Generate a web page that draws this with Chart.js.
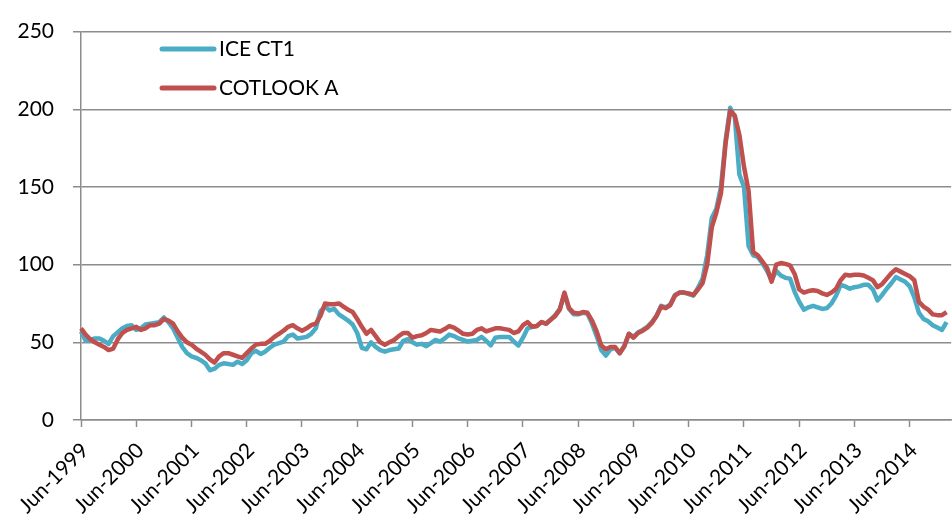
<!DOCTYPE html>
<html>
<head>
<meta charset="utf-8">
<script src="https://cdn.jsdelivr.net/npm/chart.js@4"></script>
<style>
html, body { margin: 0; padding: 0; background: #fff; overflow: hidden; }
</style>
</head>
<body>
<!-- canvas is a bit wider than the window: the plot runs off the right edge like the original -->
<canvas id="grafico" width="980" height="526"></canvas>
<script>
// monthly prices, Jun-1999 onwards
const tickLabels = ['Jun-1999', 'Jun-2000', 'Jun-2001', 'Jun-2002', 'Jun-2003', 'Jun-2004', 'Jun-2005', 'Jun-2006',
  'Jun-2007', 'Jun-2008', 'Jun-2009', 'Jun-2010', 'Jun-2011', 'Jun-2012', 'Jun-2013', 'Jun-2014'];

const monthNames = ['Jan', 'Feb', 'Mar', 'Apr', 'May', 'Jun', 'Jul', 'Aug', 'Sep', 'Oct', 'Nov', 'Dec'];
const categories = [];
for (let i = 0; i < 190; i++) {
  categories.push(monthNames[(5 + i) % 12] + '-' + (1999 + Math.floor((5 + i) / 12)));
}

const iceCT1 = [
  57, 51, 51.5, 52.5, 52.5, 51, 49, 54, 56.5, 59, 60.5, 61,
  58, 59, 61.5, 62, 62.5, 63, 66, 63, 59, 53, 47, 43,
  41, 40, 38.5, 36.5, 32, 33, 35.5, 36.5, 36, 35.5, 37.5, 36,
  38.5, 43, 44.5, 42.5, 44, 46.5, 48.5, 49.5, 50.5, 54, 55, 52.5,
  53, 53.5, 55.5, 59, 70, 73, 70.5, 71.5, 68, 66, 64, 61.5,
  56, 46.5, 45.5, 50, 47, 45, 44, 45, 45.5, 46, 51, 52,
  50, 48.5, 49, 47.5, 49.5, 51.5, 50.5, 52.5, 55, 54, 52.5, 51.5,
  50.5, 51, 51.5, 53.5, 51, 48, 53, 53.5, 53.5, 53.5, 50.5, 48,
  53, 59, 60, 60.5, 63, 62, 64.5, 67.5, 71.5, 81, 71.5, 68,
  68, 69, 68.5, 62, 54, 45, 41.5, 45.5, 46.5, 43, 47.5, 55.5,
  53.5, 56.5, 58, 60, 63, 67, 73.5, 72.5, 74.5, 80.5, 82, 82,
  81, 80, 85, 91, 106, 130, 136, 150, 180, 201, 195, 158,
  150, 112, 106, 105, 101, 96, 90, 96, 93, 91.5, 91, 82.5,
  76, 71, 72.5, 73.5, 72.5, 71.5, 72, 75, 80, 87, 86, 84.5,
  85.5, 86, 87, 87, 84, 77, 80.5, 84.5, 88, 92, 90.5, 89,
  86, 79, 69, 65, 63.5, 61, 59.5, 58, 63
];

const cotlookA = [
  59, 55, 52, 50, 48.5, 47, 45, 46, 52, 56, 58, 59,
  60, 58, 59, 61, 61, 62, 65, 64, 62, 57, 53, 50,
  48.5, 46, 44, 42, 39, 37, 41, 43, 43, 42, 41, 40,
  43, 46, 48.5, 49, 49, 51, 53.5, 55.5, 57.5, 60, 61, 59,
  57.5, 59, 61, 62, 67, 75, 74.5, 74.5, 75, 73, 71, 69.5,
  65, 60, 55.5, 58, 54, 50, 48.5, 50, 51.5, 54, 56, 56,
  53, 54, 54.5, 56, 58, 57.5, 57, 58.5, 60.5, 59.5, 57.5, 55.5,
  55, 55.5, 58, 59, 57, 58, 59, 59, 58.5, 58, 56, 57,
  61, 63, 60, 60.5, 63, 62, 64.5, 67, 71, 82, 72, 69,
  68.5, 69.5, 69, 64, 57, 48, 45.5, 47, 47, 43, 47.5, 55.5,
  53, 56, 57.5, 59.5, 62.5, 67, 73, 72, 74, 80, 82, 82,
  81.5, 80.5, 84, 88, 100, 124, 133.5, 146, 178, 199, 196, 183.5,
  163, 147.5, 108, 106, 102, 98, 89, 100, 101, 100.5, 99.5, 94,
  84, 82, 83, 83.5, 83, 81.5, 80.5, 82, 84.5, 90, 93.5, 93,
  93.5, 93.5, 93, 91.5, 90, 85.5, 87.5, 91, 94.5, 97, 95.5, 94,
  92.5, 90, 76, 73, 71, 68, 67.5, 67.5, 69.5
];

const fonte = { family: 'Lato', size: 21 };
const cinza = '#8c8c8c';

// legend sits inside the plot, drawn by hand
const legendaInterna = {
  id: 'legendaInterna',
  afterDraw(chart) {
    const ctx = chart.ctx;
    ctx.save();
    ctx.font = '21px Lato';
    ctx.textBaseline = 'middle';
    ctx.lineCap = 'round';
    chart.data.datasets.forEach((ds, i) => {
      const y = 49 + i * 39;
      ctx.strokeStyle = ds.borderColor;
      ctx.lineWidth = 5;
      ctx.beginPath();
      ctx.moveTo(162, y);
      ctx.lineTo(214, y);
      ctx.stroke();
      ctx.fillStyle = '#000';
      ctx.fillText(ds.label, 219, y);
    });
    ctx.restore();
  }
};

const ctx = document.getElementById('grafico').getContext('2d');
new Chart(ctx, {
  type: 'line',
  data: {
    labels: categories,
    datasets: [{
      label: 'ICE CT1',
      data: iceCT1,
      borderColor: '#4BACC6',
      borderWidth: 4.5,
      pointRadius: 0,
      borderJoinStyle: 'round',
      order: 2
    }, {
      label: 'COTLOOK A',
      data: cotlookA,
      borderColor: '#C0504D',
      borderWidth: 4.5,
      pointRadius: 0,
      borderJoinStyle: 'round',
      order: 1
    }]
  },
  options: {
    responsive: false,
    animation: false,
    devicePixelRatio: 1,
    layout: { padding: { top: 27, left: 0, right: 0, bottom: 0 } },
    plugins: { legend: { display: false }, tooltip: { enabled: false } },
    scales: {
      x: {
        type: 'category',
        offset: false,
        afterFit: s => { s.height = 106; },
        grid: {
          drawOnChartArea: false,
          tickLength: 7,
          tickWidth: 1.5,
          tickColor: c => (c.index % 12 === 0 ? cinza : 'rgba(0,0,0,0)')
        },
        border: { color: cinza, width: 1.5 },
        ticks: {
          autoSkip: false,
          minRotation: 45,
          maxRotation: 45,
          padding: 11,
          labelOffset: 4,
          color: '#000',
          font: fonte,
          callback: (v, i) => (i % 12 === 0 ? tickLabels[i / 12] || '' : '')
        }
      },
      y: {
        min: 0,
        max: 250,
        afterFit: s => { s.width = 81; },
        grid: { color: cinza, lineWidth: 1.5, tickLength: 8 },
        border: { color: cinza, width: 1.5 },
        ticks: { stepSize: 50, padding: 19, color: '#000', font: fonte }
      }
    }
  },
  plugins: [legendaInterna]
});
</script>
</body>
</html>
